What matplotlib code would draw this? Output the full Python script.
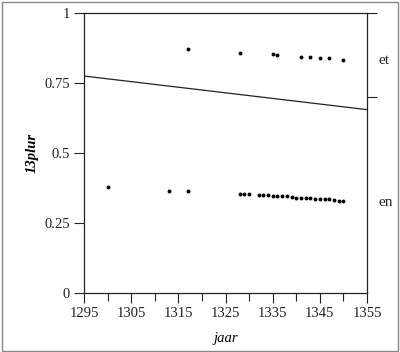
import matplotlib
matplotlib.use("Agg")
import matplotlib.pyplot as plt
from matplotlib.patches import Rectangle

plt.rcParams['font.family'] = ['Liberation Serif', 'DejaVu Serif']

et_years = [1317, 1328, 1335, 1336, 1341, 1343, 1345, 1347, 1350]
et_vals = [0.871, 0.859, 0.855, 0.849, 0.844, 0.844, 0.839, 0.839, 0.831]

en_years = [1300, 1313, 1317, 1328, 1329, 1330, 1332, 1333, 1334, 1335, 1336, 1337,
            1338, 1339, 1340, 1341, 1342, 1343, 1344, 1345, 1346, 1347, 1348, 1349, 1350]
en_vals = [0.380, 0.366, 0.366, 0.354, 0.354, 0.354, 0.351, 0.351, 0.350, 0.348, 0.345, 0.346,
           0.346, 0.344, 0.341, 0.341, 0.340, 0.340, 0.337, 0.336, 0.336, 0.335, 0.333, 0.330, 0.330]

line_years = [1295, 1355]
line_vals = [0.775, 0.655]

x_major = [1295, 1305, 1315, 1325, 1335, 1345, 1355]
x_minor = [1300, 1310, 1320, 1330, 1340, 1350]
y_ticks = [0, 0.25, 0.5, 0.75, 1]
y_ticklabels = ['0', '0.25', '0.5', '0.75', '1']
right_ticks = [0.7, 1.0]
right_labels = [('et', 0.83), ('en', 0.325)]

fig = plt.figure(figsize=(4.0, 3.52), dpi=100)
ax = fig.add_axes([0.21, 0.1676, 0.7075, 0.7954])

ax.plot(line_years, line_vals, color='#222222', lw=0.9)
ax.plot(et_years, et_vals, 'o', color='black', ms=2.8, mew=0)
ax.plot(en_years, en_vals, 'o', color='black', ms=2.8, mew=0)

ax.set_xlim(1295, 1355)
ax.set_ylim(0, 1)
ax.set_xticks(x_major)
ax.set_xticks(x_minor, minor=True)
ax.set_yticks(y_ticks)
ax.set_yticklabels(y_ticklabels)
ax.tick_params(axis='both', which='both', direction='out', length=7, width=0.8,
               labelsize=10.5, pad=3, colors='#222222')
ax.tick_params(axis='x', which='minor', length=6)

for s in ax.spines.values():
    s.set_linewidth(0.9)
    s.set_color('#222222')

ax2 = ax.twinx()
ax2.set_ylim(0, 1)
ax2.set_yticks(right_ticks)
ax2.set_yticklabels([])
ax2.tick_params(axis='y', direction='out', length=7, width=0.8, colors='#222222')
for s in ax2.spines.values():
    s.set_visible(False)

for txt, v in right_labels:
    ax.text(1357.5, v, txt, fontsize=11, va='center', ha='left', color='#222222')

ax.set_xlabel('jaar', fontstyle='italic', fontsize=10.5, labelpad=9)
ax.set_ylabel('13plur', fontstyle='italic', fontweight='bold', fontsize=10.5, labelpad=4)

fig.patches.append(Rectangle((0.004, 0.004), 0.992, 0.99, transform=fig.transFigure,
                             fill=False, edgecolor='#888888', lw=1.0))

fig.savefig('out.png', dpi=100)
